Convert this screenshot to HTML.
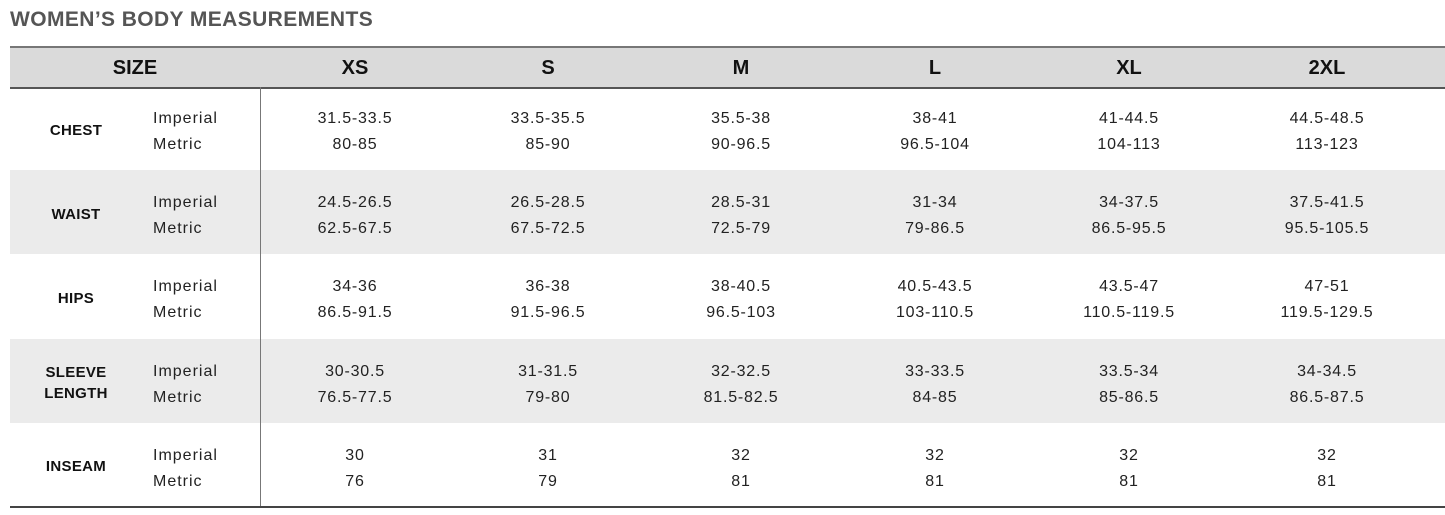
<!DOCTYPE html><html><head><style>
body{margin:0;width:1445px;height:515px;background:#fff;font-family:"Liberation Sans",sans-serif;position:relative;overflow:hidden}
.a{position:absolute}
.t{left:10px;top:8px;font-size:21px;font-weight:bold;color:#555;letter-spacing:0.4px}
.hd{left:10px;top:46px;width:1435px;height:39px;background:#dadada;border-top:2px solid #777;border-bottom:2px solid #555}
.h{top:57px;font-size:20px;font-weight:bold;color:#111;transform:translateX(-50%)}
.row{left:10px;width:1435px;height:84px}
.g{background:#ebebeb}
.c{transform:translateX(-50%);text-align:center;font-size:16px;line-height:26px;color:#222;letter-spacing:0.8px}
.lb{transform:translateX(-50%);text-align:center;font-size:15px;font-weight:bold;line-height:21px;color:#111;letter-spacing:0.3px}
.im{left:153px;font-size:16px;line-height:26px;color:#222;letter-spacing:1px}
</style></head><body>
<div class="a t">WOMEN’S BODY MEASUREMENTS</div>
<div class="a hd"></div>
<div class="a h" style="left:135px">SIZE</div>
<div class="a h" style="left:355px">XS</div>
<div class="a h" style="left:548px">S</div>
<div class="a h" style="left:741px">M</div>
<div class="a h" style="left:935px">L</div>
<div class="a h" style="left:1129px">XL</div>
<div class="a h" style="left:1327px">2XL</div>
<div class="a row g" style="top:170px"></div>
<div class="a row g" style="top:339px"></div>
<div class="a" style="left:260px;top:87px;width:1px;height:420px;background:#777"></div>
<div class="a" style="left:10px;top:506px;width:1435px;height:2px;background:#444"></div>
<div id="c"></div>
<script>
var rows=[["CHEST",["31.5-33.5","80-85"],["33.5-35.5","85-90"],["35.5-38","90-96.5"],["38-41","96.5-104"],["41-44.5","104-113"],["44.5-48.5","113-123"]],
["WAIST",["24.5-26.5","62.5-67.5"],["26.5-28.5","67.5-72.5"],["28.5-31","72.5-79"],["31-34","79-86.5"],["34-37.5","86.5-95.5"],["37.5-41.5","95.5-105.5"]],
["HIPS",["34-36","86.5-91.5"],["36-38","91.5-96.5"],["38-40.5","96.5-103"],["40.5-43.5","103-110.5"],["43.5-47","110.5-119.5"],["47-51","119.5-129.5"]],
["SLEEVE<br>LENGTH",["30-30.5","76.5-77.5"],["31-31.5","79-80"],["32-32.5","81.5-82.5"],["33-33.5","84-85"],["33.5-34","85-86.5"],["34-34.5","86.5-87.5"]],
["INSEAM",["30","76"],["31","79"],["32","81"],["32","81"],["32","81"],["32","81"]]];
var xs=[355,548,741,935,1129,1327],h="";
rows.forEach(function(r,i){var top=86+i*84.2,cy=top+42;
var two=r[0].indexOf("<br>")>0;
h+='<div class="a lb" style="left:76px;top:'+(cy-(two?21:10.5)+2)+'px">'+r[0]+'</div>';
h+='<div class="a im" style="top:'+(cy-22)+'px">Imperial<br>Metric</div>';
for(var j=0;j<6;j++)h+='<div class="a c" style="left:'+xs[j]+'px;top:'+(cy-22)+'px">'+r[j+1][0]+'<br>'+r[j+1][1]+'</div>';});
document.getElementById("c").innerHTML=h;
</script>
</body></html>
